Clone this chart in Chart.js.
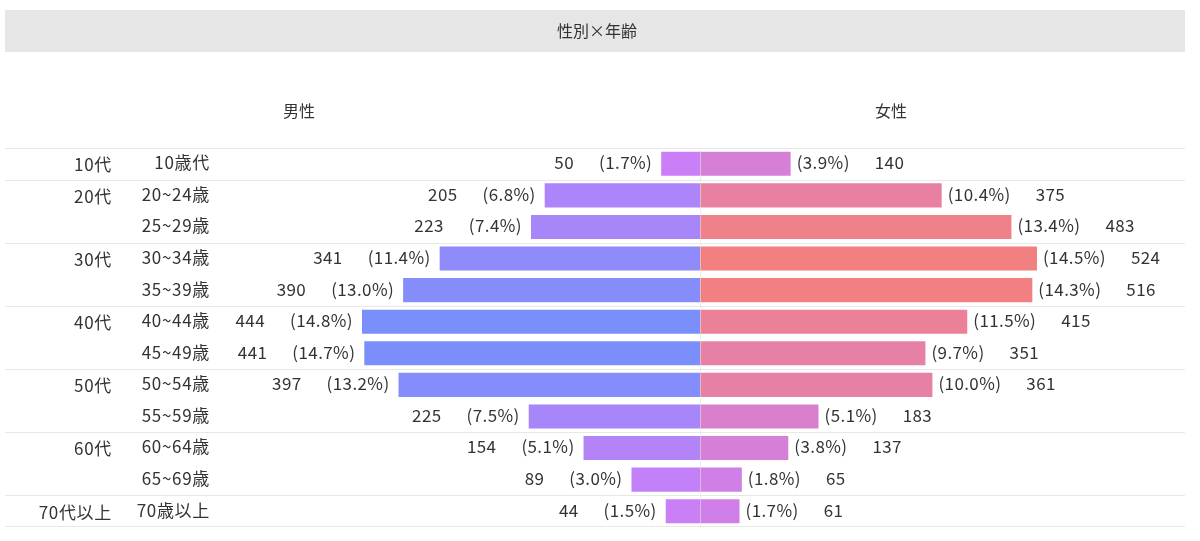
<!DOCTYPE html>
<html>
<head>
    <meta charset="utf-8">
    <title>性別×年齢</title>
    <script src="https://cdn.jsdelivr.net/npm/chart.js"></script>
    <style>
        body { margin: 0; background: #fff; }
        #wrap { width: 1200px; height: 541px; }
    </style>
</head>
<body>
<div id="wrap"><canvas id="ageChart" width="1200" height="541"></canvas></div>
<script>
    // data
    var groupLabels = ['10代', '20代', '', '30代', '', '40代', '', '50代', '', '60代', '', '70代以上'];
    var ageLabels = ['10歳代', '20~24歳', '25~29歳', '30~34歳', '35~39歳', '40~44歳', '45~49歳', '50~54歳', '55~59歳', '60~64歳', '65~69歳', '70歳以上'];
    var maleCounts = [50, 205, 223, 341, 390, 444, 441, 397, 225, 154, 89, 44];
    var malePct = [1.7, 6.8, 7.4, 11.4, 13.0, 14.8, 14.7, 13.2, 7.5, 5.1, 3.0, 1.5];
    var femaleCounts = [140, 375, 483, 524, 516, 415, 351, 361, 183, 137, 65, 61];
    var femalePct = [3.9, 10.4, 13.4, 14.5, 14.3, 11.5, 9.7, 10.0, 5.1, 3.8, 1.8, 1.7];

    var FONT = '"Noto Sans CJK JP", "Noto Sans", sans-serif';
    var TEXT = '#333333';

    // colour goes from the low shade to the high shade with the share
    function shade(lo, hi, pLo, pHi, p) {
        var t = Math.max(0, Math.min(1, (p - pLo) / (pHi - pLo)));
        var c = lo.map(function (v, k) { return Math.round(v + (hi[k] - v) * t); });
        return 'rgb(' + c.join(',') + ')';
    }
    var maleColors = malePct.map(function (p) { return shade([203, 127, 247], [122, 143, 252], 1.5, 14.8, p); });
    var femaleColors = femalePct.map(function (p) { return shade([208, 127, 232], [243, 128, 128], 1.7, 14.5, p); });

    var pyramidText = {
        id: 'pyramidText',
        beforeDraw: function (chart) {
            var ctx = chart.ctx;
            ctx.save();
            ctx.fillStyle = '#e6e6e6';
            ctx.fillRect(5, 10, 1180, 42);
            ctx.fillStyle = TEXT;
            ctx.textAlign = 'center';
            ctx.textBaseline = 'middle';
            ctx.font = '16px ' + FONT;
            ctx.fillText('性別×年齢', 597, 31);
            ctx.font = '16px ' + FONT;
            ctx.fillText('男性', 299, 111);
            ctx.fillText('女性', 891, 111);
            ctx.restore();
        },
        beforeDatasetsDraw: function (chart) {
            var ctx = chart.ctx;
            var area = chart.chartArea;
            var y = chart.scales.y;
            var rowH = (area.bottom - area.top) / ageLabels.length;
            ctx.save();
            ctx.strokeStyle = '#e8e8e8';
            ctx.lineWidth = 1;
            groupLabels.forEach(function (g, i) {
                if (g === '') return;
                var yy = Math.round(y.getPixelForValue(i) - rowH / 2) + 0.5;
                ctx.beginPath();
                ctx.moveTo(5, yy);
                ctx.lineTo(1185, yy);
                ctx.stroke();
            });
            ctx.beginPath();
            ctx.moveTo(5, Math.round(area.bottom) - 0.5);
            ctx.lineTo(1185, Math.round(area.bottom) - 0.5);
            ctx.stroke();
            ctx.restore();
        },
        afterDatasetsDraw: function (chart) {
            var ctx = chart.ctx;
            var area = chart.chartArea;
            var x0 = Math.round(chart.scales.xm.getPixelForValue(0)) + 0.5;
            var male = chart.getDatasetMeta(0).data;
            var female = chart.getDatasetMeta(1).data;
            ctx.save();
            ctx.strokeStyle = 'rgba(225,225,225,0.6)';
            ctx.beginPath();
            ctx.moveTo(x0, area.top);
            ctx.lineTo(x0, area.bottom);
            ctx.stroke();

            ctx.fillStyle = TEXT;
            ctx.textBaseline = 'middle';
            ctx.font = '17px ' + FONT;
            ageLabels.forEach(function (lab, i) {
                var yy = male[i].y - 1;
                ctx.textAlign = 'right';
                ctx.letterSpacing = '0.7px';
                ctx.fillText(lab, 210, yy);
                if (groupLabels[i]) ctx.fillText(groupLabels[i], 112, yy + 2);

                ctx.letterSpacing = '0.4px';
                var mp = '(' + malePct[i].toFixed(1) + '%)';
                var mx = male[i].x - 9;
                ctx.fillText(mp, mx, yy);
                ctx.fillText(String(maleCounts[i]), mx - ctx.measureText(mp).width - 25, yy);

                var fp = '(' + femalePct[i].toFixed(1) + '%)';
                var fx = female[i].x + 6;
                ctx.textAlign = 'left';
                ctx.fillText(fp, fx, yy);
                ctx.fillText(String(femaleCounts[i]), fx + ctx.measureText(fp).width + 25, yy);
            });
            ctx.restore();
        }
    };

    var ctx = document.getElementById('ageChart').getContext('2d');
    var ageChart = new Chart(ctx, {
        type: 'bar',
        data: {
            labels: ageLabels,
            datasets: [{
                label: '男性',
                data: malePct.map(function (v) { return -v; }),
                backgroundColor: maleColors,
                borderWidth: 0,
                xAxisID: 'xm'
            }, {
                label: '女性',
                data: femalePct,
                backgroundColor: femaleColors,
                borderWidth: 0,
                xAxisID: 'xf'
            }]
        },
        options: {
            indexAxis: 'y',
            responsive: false,
            animation: false,
            barPercentage: 0.76,
            categoryPercentage: 1.0,
            layout: { padding: { left: 238, right: 38, top: 148, bottom: 14 } },
            scales: {
                // each half is scaled to its own largest share, as in the original
                xm: { type: 'linear', axis: 'x', display: false, min: -20.23, max: 20.23 },
                xf: { type: 'linear', axis: 'x', display: false, min: -19.88, max: 19.88 },
                y: { display: false, stacked: true }
            },
            plugins: {
                legend: { display: false },
                tooltip: { enabled: false }
            }
        },
        plugins: [pyramidText]
    });
</script>
</body>
</html>
